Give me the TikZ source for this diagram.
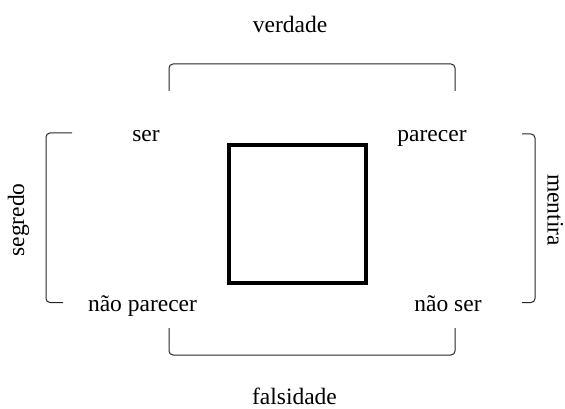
\documentclass[tikz,border=0pt]{standalone}
\usepackage{fontspec}
\setmainfont{Liberation Serif}
\usepackage{tikz}

\tikzset{
  termo/.style={anchor=base,inner sep=0pt,font=\fontsize{23.5}{28}\selectfont},
  chave/.style={draw=black!85,line width=1pt,rounded corners=4pt},
  quadro/.style={draw,line width=3.5pt,minimum width=137pt,minimum height=138pt,inner sep=0pt}
}

\begin{document}
\begin{tikzpicture}[x=1pt,y=-1pt]
\useasboundingbox (0,0) rectangle (565,409);

\node[quadro] (Q) at (297.5,214) {};

\node[termo] (S) at (146,141.5) {ser};
\node[termo] (P) at (432,141.5) {parecer};
\node[termo] (NP) at (142.5,311.5) {não parecer};
\node[termo] (NS) at (448,311.5) {não ser};

\node[termo] (V) at (290,33) {verdade};
\node[termo] (F) at (294.5,404.5) {falsidade};
\node[termo,rotate=90] (SG) at (24,220) {segredo};
\node[termo,rotate=-90] (M) at (547.5,210) {mentira};

\draw[chave] (169,91) -- (169,64) -- (455,64) -- (455,91);
\draw[chave] (169,328) -- (169,355) -- (455,355) -- (455,328);
\draw[chave] (72,133) -- (46,133) -- (46,302.5) -- (63,302.5);
\draw[chave] (522,134) -- (535,134) -- (535,302.5) -- (522,302.5);

\end{tikzpicture}
\end{document}
